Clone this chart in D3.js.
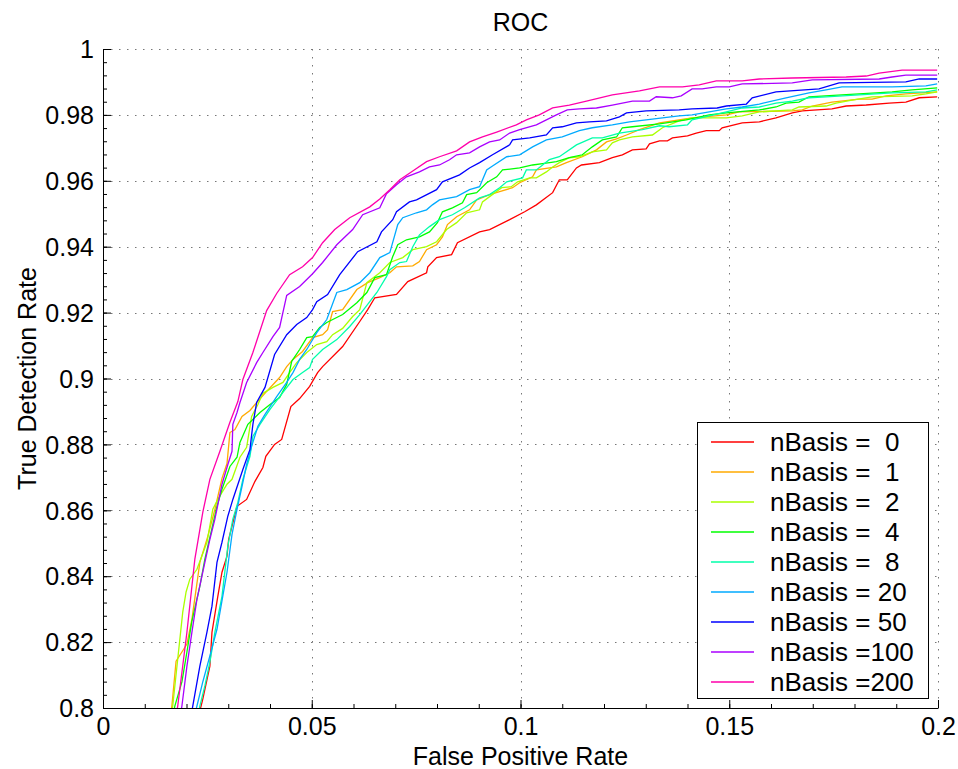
<!DOCTYPE html>
<html><head><meta charset="utf-8">
<script src="https://cdn.jsdelivr.net/npm/d3@7"></script>
<style>body{margin:0;background:#fff} text{font-family:"Liberation Sans",Arial,sans-serif;fill:#000}</style>
</head><body><svg id="c" width="958" height="769"></svg>
<script>
const seriesLabels = ['nBasis =  0','nBasis =  1','nBasis =  2','nBasis =  4','nBasis =  8','nBasis = 20','nBasis = 50','nBasis =100','nBasis =200'];
const seriesColors = ['#ff0000','#ffaa00','#aaff00','#00ff00','#00ffaa','#00aaff','#0000ff','#aa00ff','#ff00aa'];
const xTicks = [0, 0.05, 0.1, 0.15, 0.2];
const xTickLabels = ['0','0.05','0.1','0.15','0.2'];
const yTicks = [0.8,0.82,0.84,0.86,0.88,0.9,0.92,0.94,0.96,0.98,1];
const yTickLabels = ['0.8','0.82','0.84','0.86','0.88','0.9','0.92','0.94','0.96','0.98','1'];

const roc0 = [[.0232,.7991],[.0239,.8027],[.0256,.8127],[.0261,.8230],[.0275,.8339],[.0285,.8412],[.0297,.8461],[.0301,.8512],[.0321,.8612],[.0344,.8633],[.0364,.8688],[.0383,.8730],[.0390,.8764],[.0411,.8800],[.0428,.8815],[.0450,.8915],[.0471,.8939],[.0495,.8976],[.0514,.9018],[.0526,.9036],[.0574,.9097],[.0615,.9173],[.0634,.9209],[.0651,.9245],[.0703,.9255],[.0730,.9294],[.0775,.9321],[.0778,.9339],[.0799,.9367],[.0835,.9376],[.0849,.9412],[.0902,.9445],[.0926,.9452],[.0974,.9482],[.1010,.9506],[.1038,.9527],[.1077,.9564],[.1093,.9603],[.1112,.9603],[.1134,.9639],[.1146,.9648],[.1189,.9655],[.1220,.9670],[.1244,.9679],[.1268,.9694],[.1301,.9697],[.1309,.9712],[.1333,.9721],[.1352,.9721],[.1364,.9730],[.1400,.9736],[.1421,.9745],[.1445,.9752],[.1476,.9752],[.1483,.9761],[.1531,.9776],[.1572,.9779],[.1612,.9791],[.1651,.9806],[.1675,.9812],[.1746,.9818],[.1780,.9827],[.1828,.9830],[.1883,.9836],[.1923,.9839],[.1955,.9852],[.1998,.9855]];
const roc1 = [[.0163,.7991],[.0165,.8006],[.0175,.8142],[.0189,.8170],[.0201,.8194],[.0213,.8270],[.0232,.8442],[.0251,.8521],[.0268,.8603],[.0285,.8697],[.0297,.8742],[.0304,.8836],[.0316,.8845],[.0333,.8885],[.0352,.8903],[.0368,.8927],[.0392,.8961],[.0423,.9003],[.0440,.9036],[.0455,.9058],[.0478,.9082],[.0502,.9124],[.0526,.9133],[.0538,.9148],[.0550,.9203],[.0574,.9209],[.0608,.9270],[.0634,.9291],[.0663,.9306],[.0687,.9321],[.0703,.9339],[.0742,.9342],[.0758,.9355],[.0775,.9391],[.0799,.9406],[.0813,.9430],[.0825,.9467],[.0847,.9491],[.0878,.9512],[.0895,.9542],[.0926,.9558],[.0950,.9567],[.0981,.9579],[.0998,.9594],[.1029,.9612],[.1038,.9633],[.1086,.9642],[.1110,.9655],[.1148,.9673],[.1182,.9694],[.1206,.9718],[.1230,.9727],[.1254,.9739],[.1285,.9755],[.1333,.9776],[.1411,.9791],[.1493,.9800],[.1524,.9809],[.1651,.9812],[.1675,.9815],[.1699,.9827],[.1746,.9839],[.1811,.9848],[.1842,.9848],[.1876,.9858],[.1923,.9864],[.1998,.9870]];
const roc2 = [[.0165,.7991],[.0167,.8006],[.0191,.8291],[.0199,.8352],[.0208,.8391],[.0225,.8421],[.0249,.8503],[.0263,.8603],[.0275,.8633],[.0297,.8679],[.0309,.8694],[.0328,.8761],[.0344,.8791],[.0356,.8885],[.0371,.8921],[.0383,.8955],[.0407,.8973],[.0431,.8988],[.0447,.9018],[.0464,.9048],[.0488,.9079],[.0512,.9103],[.0536,.9112],[.0550,.9133],[.0574,.9152],[.0598,.9188],[.0615,.9209],[.0632,.9291],[.0663,.9321],[.0687,.9352],[.0718,.9367],[.0742,.9391],[.0775,.9400],[.0799,.9415],[.0823,.9452],[.0847,.9473],[.0871,.9503],[.0902,.9512],[.0909,.9536],[.0926,.9552],[.0955,.9579],[.0978,.9582],[.0993,.9597],[.1022,.9609],[.1038,.9609],[.1062,.9627],[.1077,.9642],[.1093,.9655],[.1117,.9670],[.1141,.9673],[.1172,.9688],[.1206,.9694],[.1220,.9715],[.1237,.9724],[.1268,.9733],[.1316,.9739],[.1340,.9761],[.1380,.9782],[.1411,.9791],[.1493,.9791],[.1531,.9797],[.1572,.9809],[.1651,.9815],[.1667,.9824],[.1732,.9827],[.1756,.9836],[.1794,.9845],[.1842,.9855],[.1938,.9858],[.1971,.9864],[.1998,.9870]];
const roc4 = [[.0170,.7991],[.0172,.8006],[.0189,.8079],[.0201,.8170],[.0213,.8264],[.0232,.8370],[.0244,.8452],[.0273,.8612],[.0285,.8664],[.0304,.8733],[.0321,.8761],[.0328,.8806],[.0347,.8861],[.0376,.8897],[.0400,.8921],[.0423,.8942],[.0440,.8982],[.0452,.9052],[.0471,.9088],[.0488,.9124],[.0502,.9127],[.0519,.9155],[.0536,.9170],[.0574,.9194],[.0608,.9230],[.0632,.9261],[.0651,.9306],[.0679,.9315],[.0694,.9370],[.0706,.9406],[.0727,.9421],[.0758,.9430],[.0782,.9445],[.0801,.9473],[.0813,.9506],[.0837,.9518],[.0861,.9533],[.0871,.9558],[.0895,.9564],[.0919,.9594],[.0943,.9612],[.0957,.9633],[.0998,.9639],[.1029,.9648],[.1053,.9652],[.1086,.9658],[.1117,.9670],[.1148,.9679],[.1172,.9703],[.1196,.9724],[.1230,.9733],[.1244,.9761],[.1268,.9764],[.1333,.9773],[.1397,.9785],[.1452,.9800],[.1493,.9806],[.1572,.9815],[.1612,.9824],[.1636,.9836],[.1667,.9839],[.1691,.9855],[.1770,.9861],[.1852,.9867],[.1890,.9870],[.1938,.9876],[.1998,.9882]];
const roc8 = [[.0230,.7991],[.0232,.8006],[.0244,.8067],[.0256,.8139],[.0268,.8230],[.0285,.8339],[.0299,.8491],[.0311,.8573],[.0323,.8624],[.0335,.8694],[.0352,.8764],[.0359,.8824],[.0376,.8861],[.0400,.8906],[.0431,.8958],[.0455,.8997],[.0478,.9018],[.0495,.9033],[.0502,.9058],[.0526,.9088],[.0560,.9118],[.0591,.9158],[.0615,.9194],[.0656,.9261],[.0679,.9309],[.0687,.9330],[.0711,.9352],[.0727,.9355],[.0742,.9400],[.0758,.9436],[.0782,.9461],[.0806,.9482],[.0837,.9497],[.0866,.9518],[.0902,.9548],[.0926,.9558],[.0950,.9579],[.0967,.9597],[.1005,.9609],[.1014,.9633],[.1038,.9633],[.1069,.9664],[.1093,.9673],[.1134,.9709],[.1172,.9730],[.1196,.9730],[.1237,.9745],[.1292,.9755],[.1333,.9767],[.1356,.9764],[.1400,.9770],[.1411,.9785],[.1452,.9797],[.1493,.9809],[.1531,.9821],[.1572,.9824],[.1612,.9836],[.1651,.9842],[.1691,.9852],[.1732,.9855],[.1811,.9861],[.1890,.9867],[.1971,.9870],[.1998,.9876]];
const roc20 = [[.0222,.7991],[.0225,.8006],[.0239,.8079],[.0256,.8158],[.0273,.8239],[.0297,.8412],[.0309,.8527],[.0321,.8603],[.0333,.8673],[.0344,.8739],[.0356,.8794],[.0371,.8855],[.0388,.8891],[.0416,.8945],[.0440,.8988],[.0455,.9018],[.0471,.9058],[.0488,.9088],[.0512,.9139],[.0536,.9179],[.0560,.9261],[.0584,.9270],[.0615,.9291],[.0639,.9321],[.0663,.9367],[.0687,.9382],[.0706,.9467],[.0718,.9488],[.0751,.9503],[.0775,.9512],[.0789,.9527],[.0806,.9542],[.0847,.9552],[.0878,.9573],[.0902,.9582],[.0919,.9633],[.0933,.9645],[.0967,.9673],[.0998,.9679],[.1029,.9703],[.1062,.9724],[.1100,.9733],[.1141,.9752],[.1172,.9761],[.1220,.9770],[.1261,.9779],[.1301,.9785],[.1340,.9791],[.1380,.9797],[.1411,.9800],[.1452,.9809],[.1493,.9818],[.1531,.9824],[.1572,.9833],[.1636,.9852],[.1691,.9867],[.1732,.9876],[.1770,.9885],[.1890,.9885],[.1971,.9888],[.1998,.9894]];
const roc50 = [[.0213,.7991],[.0215,.8006],[.0232,.8127],[.0249,.8230],[.0261,.8309],[.0273,.8442],[.0285,.8503],[.0299,.8582],[.0311,.8633],[.0335,.8724],[.0352,.8785],[.0359,.8861],[.0368,.8927],[.0388,.8973],[.0411,.9073],[.0440,.9133],[.0464,.9164],[.0488,.9185],[.0502,.9209],[.0512,.9233],[.0538,.9255],[.0567,.9315],[.0610,.9385],[.0656,.9415],[.0667,.9445],[.0694,.9482],[.0703,.9506],[.0734,.9536],[.0751,.9542],[.0799,.9573],[.0813,.9597],[.0854,.9618],[.0878,.9639],[.0902,.9655],[.0933,.9679],[.0974,.9709],[.0981,.9724],[.1022,.9730],[.1062,.9739],[.1077,.9761],[.1100,.9764],[.1134,.9776],[.1165,.9779],[.1206,.9782],[.1237,.9794],[.1254,.9806],[.1301,.9812],[.1380,.9815],[.1411,.9818],[.1471,.9821],[.1493,.9827],[.1541,.9833],[.1555,.9852],[.1612,.9870],[.1715,.9879],[.1763,.9897],[.1923,.9900],[.1955,.9909],[.1998,.9909]];
const roc100 = [[.0187,.7991],[.0189,.8006],[.0201,.8127],[.0213,.8230],[.0225,.8330],[.0244,.8442],[.0256,.8512],[.0268,.8573],[.0285,.8679],[.0299,.8739],[.0309,.8779],[.0311,.8861],[.0321,.8897],[.0328,.8927],[.0344,.8988],[.0368,.9048],[.0383,.9079],[.0407,.9127],[.0423,.9155],[.0440,.9252],[.0471,.9279],[.0502,.9318],[.0526,.9352],[.0560,.9406],[.0598,.9452],[.0622,.9497],[.0663,.9518],[.0679,.9561],[.0703,.9588],[.0727,.9612],[.0758,.9627],[.0782,.9642],[.0806,.9648],[.0830,.9664],[.0847,.9679],[.0878,.9685],[.0902,.9703],[.0926,.9718],[.0950,.9724],[.0974,.9745],[.0998,.9755],[.1038,.9770],[.1062,.9785],[.1086,.9800],[.1112,.9815],[.1141,.9818],[.1182,.9821],[.1220,.9830],[.1268,.9842],[.1309,.9842],[.1325,.9855],[.1364,.9852],[.1385,.9858],[.1411,.9879],[.1435,.9879],[.1469,.9885],[.1500,.9885],[.1531,.9894],[.1651,.9897],[.1699,.9906],[.1859,.9909],[.1890,.9915],[.1923,.9921],[.1998,.9921]];
const roc200 = [[.0177,.7991],[.0179,.8006],[.0201,.8230],[.0213,.8370],[.0220,.8452],[.0239,.8594],[.0256,.8694],[.0280,.8779],[.0304,.8867],[.0323,.8930],[.0335,.8997],[.0359,.9079],[.0392,.9206],[.0416,.9258],[.0447,.9315],[.0478,.9339],[.0502,.9367],[.0526,.9412],[.0555,.9452],[.0591,.9488],[.0639,.9521],[.0663,.9545],[.0687,.9573],[.0711,.9603],[.0742,.9630],[.0775,.9658],[.0806,.9673],[.0847,.9691],[.0878,.9718],[.0909,.9733],[.0943,.9748],[.0990,.9770],[.1014,.9785],[.1045,.9800],[.1077,.9821],[.1117,.9830],[.1158,.9842],[.1220,.9861],[.1285,.9873],[.1333,.9885],[.1388,.9885],[.1428,.9891],[.1469,.9903],[.1531,.9903],[.1572,.9909],[.1651,.9912],[.1780,.9915],[.1828,.9918],[.1859,.9927],[.1914,.9936],[.1998,.9936]];
const allSeries = [roc0, roc1, roc2, roc4, roc8, roc20, roc50, roc100, roc200];

const L = 103, R = 938, T = 49, B = 708;
const svg = d3.select('#c');
const x = d3.scaleLinear().domain([0, 0.2]).range([L, R]);
const y = d3.scaleLinear().domain([0.8, 1]).range([B, T]);
const fs = 25;

// grid
const grid = svg.append('g').attr('stroke', '#777').attr('stroke-width', 1).attr('stroke-dasharray', '1.5,6.5');
grid.selectAll('.gx').data(xTicks.slice(1)).enter().append('line')
  .attr('x1', d => Math.round(x(d)) + 0.5).attr('x2', d => Math.round(x(d)) + 0.5).attr('y1', T).attr('y2', B);
grid.selectAll('.gy').data(yTicks.slice(1)).enter().append('line')
  .attr('y1', d => Math.round(y(d)) + 0.5).attr('y2', d => Math.round(y(d)) + 0.5).attr('x1', L).attr('x2', R);

// minor ticks
const xMinor = d3.range(0, 0.2001, 0.01);
const yMinor = d3.range(0.8, 1.0001, 0.004);
svg.append('g').attr('transform', `translate(0,${B})`)
  .call(d3.axisBottom(x).tickValues(xMinor).tickSize(-4).tickSizeOuter(0).tickFormat(''))
  .call(g => g.select('.domain').remove());
svg.append('g').attr('transform', `translate(${L},0)`)
  .call(d3.axisLeft(y).tickValues(yMinor).tickSize(-4).tickSizeOuter(0).tickFormat(''))
  .call(g => g.select('.domain').remove());

// axes
const xa = svg.append('g').attr('transform', `translate(0,${B})`)
  .call(d3.axisBottom(x).tickValues(xTicks).tickSize(-8).tickSizeOuter(0).tickFormat((d, i) => xTickLabels[i]));
const ya = svg.append('g').attr('transform', `translate(${L},0)`)
  .call(d3.axisLeft(y).tickValues(yTicks).tickSize(-8).tickSizeOuter(0).tickFormat((d, i) => yTickLabels[i]));
[xa, ya].forEach(a => {
  a.selectAll('text').attr('font-size', fs).attr('font-family', '"Liberation Sans",Arial,sans-serif');
  a.selectAll('line,path').attr('stroke', '#000');
});
xa.selectAll('.tick text').attr('dy', '0.71em').attr('y', 9);
ya.selectAll('.tick text').attr('x', -9).attr('dy', '0.35em');

// clip + curves
svg.append('clipPath').attr('id', 'clip').append('rect').attr('x', L).attr('y', T).attr('width', R - L).attr('height', B - T);
const line = d3.line().x(d => x(d[0])).y(d => y(d[1]));
svg.append('g').attr('clip-path', 'url(#clip)').selectAll('path').data(allSeries).enter().append('path')
  .attr('d', line).attr('fill', 'none').attr('stroke', (d, i) => seriesColors[i]).attr('stroke-width', 1.3);

// title + labels
svg.append('text').attr('x', (L + R) / 2).attr('y', 31).attr('text-anchor', 'middle').attr('font-size', 25).text('ROC');
svg.append('text').attr('x', (L + R) / 2).attr('y', 765).attr('text-anchor', 'middle').attr('font-size', fs).text('False Positive Rate');
svg.append('text').attr('transform', `translate(36,${(T + B) / 2}) rotate(-90)`).attr('text-anchor', 'middle').attr('font-size', fs).text('True Detection Rate');

// legend
const lg = svg.append('g');
lg.append('rect').attr('x', 697.5).attr('y', 422.5).attr('width', 231).attr('height', 276).attr('fill', '#fff').attr('stroke', '#000').attr('stroke-width', 1);
seriesLabels.forEach((lab, i) => {
  const yy = 442 + i * 30;
  lg.append('line').attr('x1', 711).attr('x2', 754).attr('y1', yy).attr('y2', yy).attr('stroke', seriesColors[i]).attr('stroke-width', 1.3);
  lg.append('text').attr('x', 770).attr('y', yy).attr('dy', '0.36em').attr('font-size', 26).style('white-space', 'pre').text(lab);
});
</script></body></html>
